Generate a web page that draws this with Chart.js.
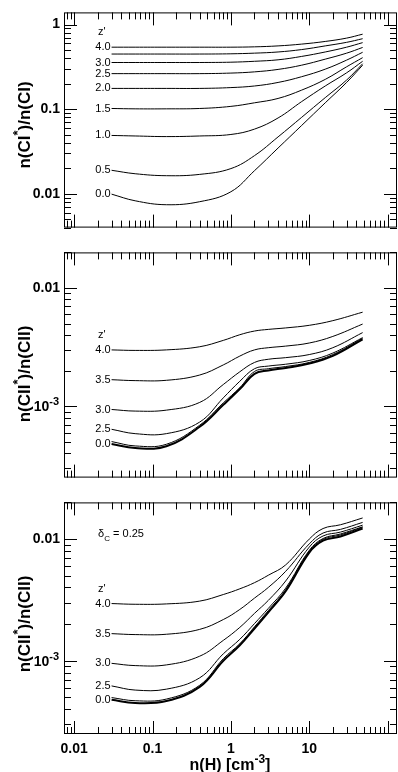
<!DOCTYPE html>
<html>
<head>
<meta charset="utf-8">
<script src="https://cdn.jsdelivr.net/npm/chart.js@4.4.1/dist/chart.umd.min.js"></script>
<style>
  html, body { margin: 0; padding: 0; background: #fff; }
  #wrap { position: relative; width: 398px; height: 772px; }
  canvas { position: absolute; left: 0; }
</style>
</head>
<body>
<div id="wrap">
  <canvas id="c1" width="398" height="240" style="top:0px"></canvas>
  <canvas id="c2" width="398" height="250" style="top:240px"></canvas>
  <canvas id="c3" width="398" height="282" style="top:490px"></canvas>
</div>
<script>
// n(H) sample points [cm^-3]
var nH1 = [0.03, 0.06, 0.15, 0.4, 1, 2, 4, 8, 16, 30, 48];
var nH2 = [0.03, 0.06, 0.15, 0.4, 0.8, 1.3, 2, 3, 5, 10, 20, 48];
var nH3 = [0.03, 0.06, 0.15, 0.4, 0.8, 1.3, 2, 3, 5, 10, 15, 25, 48];

// top panel: n(CI*)/n(CI)
var ci_z40 = [0.540, 0.540, 0.540, 0.540, 0.540, 0.545, 0.559, 0.587, 0.631, 0.691, 0.769];
var ci_z35 = [0.448, 0.448, 0.448, 0.448, 0.451, 0.459, 0.474, 0.506, 0.559, 0.616, 0.680];
var ci_z30 = [0.356, 0.356, 0.356, 0.356, 0.359, 0.368, 0.383, 0.420, 0.474, 0.540, 0.611];
var ci_z25 = [0.263, 0.263, 0.263, 0.263, 0.267, 0.276, 0.295, 0.331, 0.390, 0.459, 0.536];
var ci_z20 = [0.176, 0.176, 0.176, 0.176, 0.180, 0.188, 0.207, 0.242, 0.297, 0.380, 0.470];
var ci_z15 = [0.102, 0.101, 0.101, 0.102, 0.108, 0.119, 0.134, 0.168, 0.225, 0.317, 0.406];
var ci_z10 = [0.0490, 0.0483, 0.0475, 0.0483, 0.0503, 0.0582, 0.0788, 0.123, 0.188, 0.269, 0.368];
var ci_z05 = [0.0190, 0.0173, 0.0164, 0.0170, 0.0199, 0.0283, 0.0471, 0.0802, 0.137, 0.221, 0.344];
var ci_z00 = [0.00993, 0.00829, 0.00745, 0.00809, 0.0106, 0.0188, 0.0348, 0.0643, 0.119, 0.207, 0.331];

// middle panel: n(CII*)/n(CII)
var cii_z40 = [0.00300, 0.00297, 0.00300, 0.00319, 0.00361, 0.00403, 0.00433, 0.00447, 0.00460, 0.00484, 0.00530, 0.00625];
var cii_z35 = [0.00168, 0.00165, 0.00166, 0.00184, 0.00224, 0.00266, 0.00300, 0.00313, 0.00323, 0.00343, 0.00390, 0.00496];
var cii_z30 = [0.000941, 0.000912, 0.000929, 0.00108, 0.00153, 0.00196, 0.00235, 0.00250, 0.00258, 0.00274, 0.00313, 0.00420];
var cii_z25 = [0.000640, 0.000588, 0.000588, 0.000737, 0.00118, 0.00163, 0.00208, 0.00219, 0.00227, 0.00244, 0.00282, 0.00381];
var cii_z20 = [0.000504, 0.000463, 0.000478, 0.000693, 0.00107, 0.00144, 0.00197, 0.00208, 0.00217, 0.00235, 0.00274, 0.00376];
var cii_z00 = [0.000480, 0.000444, 0.000460, 0.000672, 0.00103, 0.00140, 0.00188, 0.00201, 0.00211, 0.00230, 0.00267, 0.00369];

// bottom panel: n(CII*)/n(CII), delta_C = 0.25
var dc_z40 = [0.00295, 0.00291, 0.00293, 0.00309, 0.00350, 0.00390, 0.00438, 0.00504, 0.00613, 0.00999, 0.0122, 0.0131, 0.0149];
var dc_z35 = [0.00167, 0.00164, 0.00165, 0.00181, 0.00218, 0.00264, 0.00327, 0.00400, 0.00543, 0.00912, 0.0112, 0.0120, 0.0137];
var dc_z30 = [0.000952, 0.000912, 0.000924, 0.00109, 0.00147, 0.00188, 0.00245, 0.00313, 0.00452, 0.00858, 0.0106, 0.0114, 0.0130];
var dc_z25 = [0.000621, 0.000574, 0.000584, 0.000724, 0.00114, 0.00150, 0.00202, 0.00269, 0.00395, 0.00807, 0.0101, 0.0110, 0.0126];
var dc_z20 = [0.000498, 0.000469, 0.000484, 0.000629, 0.00104, 0.00138, 0.00190, 0.00258, 0.00383, 0.00793, 0.00993, 0.0108, 0.0125];
var dc_z00 = [0.000478, 0.000449, 0.000466, 0.000610, 0.00100, 0.00134, 0.00184, 0.00250, 0.00372, 0.00774, 0.00969, 0.0105, 0.0122];

var xTicks = [0.01, 0.1, 1, 10];
var yTicksCI = [1, 0.1, 0.01];
var yTicksCII = [0.01, 0.001];

var FONT = '"Liberation Sans", Arial, Helvetica, sans-serif';

// text made of normal / superscript / subscript pieces
function drawParts(ctx, parts, x, y, size, bold) {
  var w = bold ? 'bold ' : '';
  var total = 0;
  parts.forEach(function (p) {
    ctx.font = w + (p.s ? Math.round(size * 0.75) : size) + 'px ' + FONT;
    p.w = ctx.measureText(p.t).width;
    total += p.w;
  });
  var cx = x - total / 2;
  parts.forEach(function (p) {
    ctx.font = w + (p.s ? Math.round(size * 0.75) : size) + 'px ' + FONT;
    var dy = p.s === 'sup' ? -size * 0.45 : (p.s === 'sub' ? size * 0.3 : 0);
    ctx.fillText(p.t, cx, y + dy);
    cx += p.w;
  });
}

function logSteps(min, max) {
  var out = [];
  for (var e = Math.floor(Math.log10(min)); e <= Math.ceil(Math.log10(max)); e++) {
    for (var k = 1; k <= 9; k++) {
      var v = k * Math.pow(10, e);
      if (v >= min && v <= max) out.push([v, k === 1]);
    }
  }
  return out;
}

function makeDecor(cfg) {
  return {
    id: 'decor',
    afterDatasetsDraw: function (chart) {
      var ctx = chart.ctx, a = chart.chartArea;
      var x = chart.scales.x, y = chart.scales.y;
      ctx.save();
      ctx.strokeStyle = '#000';
      ctx.lineWidth = 1;
      ctx.strokeRect(a.left + 0.5, a.top + 0.5, a.right - a.left - 1, a.bottom - a.top - 1);
      ctx.beginPath();
      logSteps(x.min, x.max).forEach(function (t) {
        var p = Math.round(x.getPixelForValue(t[0])) + 0.5, len = t[1] ? 13 : 7;
        ctx.moveTo(p, a.top); ctx.lineTo(p, a.top + len);
        ctx.moveTo(p, a.bottom); ctx.lineTo(p, a.bottom - len);
      });
      logSteps(y.min, y.max).forEach(function (t) {
        var p = Math.round(y.getPixelForValue(t[0])) + 0.5, len = t[1] ? 13 : 7;
        ctx.moveTo(a.left, p); ctx.lineTo(a.left + len, p);
        ctx.moveTo(a.right, p); ctx.lineTo(a.right - len, p);
      });
      ctx.stroke();

      ctx.fillStyle = '#000';
      // curve tags
      ctx.font = '11px ' + FONT;
      ctx.textAlign = 'right';
      ctx.textBaseline = 'middle';
      var firstY = null;
      chart.data.datasets.forEach(function (ds, i) {
        var p0 = ds.data[0];
        var py = y.getPixelForValue(p0.y);
        if (firstY === null) firstY = py;
        if (cfg.tags[i]) ctx.fillText(ds.label, x.getPixelForValue(p0.x) - 1, py);
      });
      ctx.textAlign = 'left';
      ctx.fillText("z'", a.left + 34, firstY - 15);
      if (cfg.note) {
        ctx.textBaseline = 'alphabetic';
        drawParts(ctx, [{t: 'δ'}, {t: 'C', s: 'sub'}, {t: ' = 0.25'}], a.left + 57, a.top + 35, 11, false);
      }

      // 10^-3 tick label
      ctx.textBaseline = 'alphabetic';
      ctx.textAlign = 'left';
      if (y.min < 0.001 && y.max > 0.001) {
        var ty = y.getPixelForValue(0.001);
        ctx.font = 'bold 11px ' + FONT;
        var sw = ctx.measureText('-3').width;
        ctx.fillText('-3', 59 - sw, ty - 1);
        ctx.font = 'bold 14px ' + FONT;
        var bw = ctx.measureText('10').width;
        ctx.fillText('10', 59 - sw - bw, ty + 5);
      }

      // y title, rotated
      ctx.translate(30, cfg.titleY);
      ctx.rotate(-Math.PI / 2);
      drawParts(ctx, cfg.title, 0, 0, 17, true);
      ctx.setTransform(1, 0, 0, 1, 0, 0);

      if (cfg.xTitle) {
        drawParts(ctx, [{t: 'n(H) [cm'}, {t: '-3', s: 'sup'}, {t: ']'}], 230, 280, 16, true);
      }
      ctx.restore();
    }
  };
}

function makePanel(id, xs, series, o) {
  var datasets = series.map(function (s) {
    return {
      label: s.z,
      data: xs.map(function (v, i) { return {x: v, y: s.y[i]}; }),
      borderColor: '#000',
      borderWidth: s.w || 1,
      pointRadius: 0,
      fill: false,
      tension: 0.4
    };
  });
  var tickFont = {family: FONT, size: 14, weight: 'bold'};
  return new Chart(document.getElementById(id), {
    type: 'line',
    data: {datasets: datasets},
    plugins: [makeDecor({
      tags: series.map(function (s) { return s.tag !== false; }),
      title: o.title, titleY: o.titleY, note: o.note, xTitle: o.showX
    })],
    options: {
      responsive: false,
      animation: false,
      devicePixelRatio: 1,
      events: [],
      layout: {padding: {top: o.padTop, right: 1, bottom: o.padBottom, left: 0}},
      plugins: {legend: {display: false}, tooltip: {enabled: false}},
      scales: {
        x: {
          type: 'logarithmic',
          min: 0.00741, max: 131.8,
          display: !!o.showX,
          grid: {display: false, drawTicks: false},
          border: {display: false},
          afterBuildTicks: function (s) { s.ticks = xTicks.map(function (v) { return {value: v}; }); },
          afterFit: function (s) { s.height = o.showX ? 38 : 0; },
          ticks: {
            autoSkip: false, maxRotation: 0, padding: 7, color: '#000', font: tickFont,
            callback: function (v) { return String(v); }
          }
        },
        y: {
          type: 'logarithmic',
          min: o.yMin, max: o.yMax,
          grid: {display: false, drawTicks: false},
          border: {display: false},
          afterBuildTicks: function (s) { s.ticks = o.yTicks.map(function (v) { return {value: v}; }); },
          afterFit: function (s) { s.width = 64; },
          ticks: {
            autoSkip: false, padding: 4, color: '#000', font: tickFont,
            callback: function (v) { return v === 0.001 ? '' : String(v); }
          }
        }
      }
    }
  });
}

makePanel('c1', nH1, [
  {z: '4.0', y: ci_z40}, {z: '3.5', y: ci_z35, tag: false}, {z: '3.0', y: ci_z30},
  {z: '2.5', y: ci_z25}, {z: '2.0', y: ci_z20}, {z: '1.5', y: ci_z15},
  {z: '1.0', y: ci_z10}, {z: '0.5', y: ci_z05}, {z: '0.0', y: ci_z00}
], {
  yMin: 0.004, yMax: 1.39, yTicks: yTicksCI, padTop: 0, padBottom: 2, titleY: 125,
  title: [{t: 'n(CI'}, {t: '*', s: 'sup'}, {t: ')/n(CI)'}]
});

makePanel('c2', nH2, [
  {z: '4.0', y: cii_z40}, {z: '3.5', y: cii_z35}, {z: '3.0', y: cii_z30},
  {z: '2.5', y: cii_z25}, {z: '2.0', y: cii_z20, tag: false}, {z: '0.0', y: cii_z00, w: 2}
], {
  yMin: 0.00025, yMax: 0.02, yTicks: yTicksCII, padTop: 8, padBottom: 3, titleY: 134,
  title: [{t: 'n(CII'}, {t: '*', s: 'sup'}, {t: ')/n(CII)'}]
});

makePanel('c3', nH3, [
  {z: '4.0', y: dc_z40}, {z: '3.5', y: dc_z35}, {z: '3.0', y: dc_z30},
  {z: '2.5', y: dc_z25}, {z: '2.0', y: dc_z20, tag: false}, {z: '0.0', y: dc_z00, w: 2}
], {
  yMin: 0.00025, yMax: 0.02, yTicks: yTicksCII, padTop: 6, padBottom: 0, titleY: 134,
  title: [{t: 'n(CII'}, {t: '*', s: 'sup'}, {t: ')/n(CII)'}], note: true, showX: true
});
</script>
</body>
</html>
